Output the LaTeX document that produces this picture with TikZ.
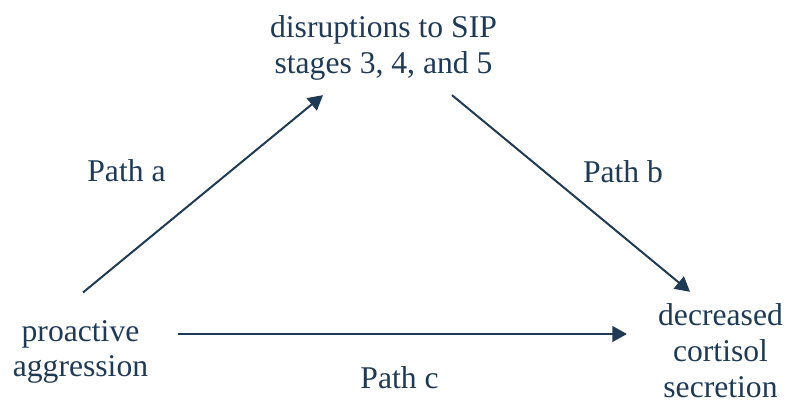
\documentclass[tikz,border=0pt]{standalone}
\usepackage{fontspec}
\setmainfont{Liberation Serif}
\usetikzlibrary{arrows.meta}
\definecolor{navy}{HTML}{1F3A55}
\tikzset{
  box/.style={inner sep=0pt, align=center, text=navy, font=\fontsize{27}{30.6}\selectfont},
  pathlabel/.style={inner sep=0pt, anchor=base, text=navy, font=\fontsize{27}{30.6}\selectfont},
  link/.style={draw=navy, line width=1.7pt, -{Triangle[length=12.5pt,width=13.5pt]}}
}
\begin{document}
\begin{tikzpicture}[x=0.03cm,y=-0.03cm]
  \useasboundingbox (0,0) rectangle (790,404);

  % the three variables
  \node[box] (dis) at (383.5,47.6) {disruptions to SIP\\stages 3, 4, and 5};
  \node[box] (pa) at (80.5,352) {proactive\\aggression};
  \node[box] (dc) at (720.5,350.5) {decreased\\cortisol\\secretion};

  % mediation paths
  \draw[link] ([shift={(2.5,-27.5)}]pa.north) -- ([shift={(-60.5,15)}]dis.south);
  \draw[link] ([shift={(68.5,15)}]dis.south) -- ([shift={(-30.5,-11.5)}]dc.north);
  \draw[link] ([shift={(30,-18)}]pa.east) -- ([shift={(-31,-16.5)}]dc.west);

  \node[pathlabel] (la) at (126.5,182) {Path a};
  \node[pathlabel] (lb) at (623,183) {Path b};
  \node[pathlabel] (lc) at (399.5,388) {Path c};
\end{tikzpicture}
\end{document}
